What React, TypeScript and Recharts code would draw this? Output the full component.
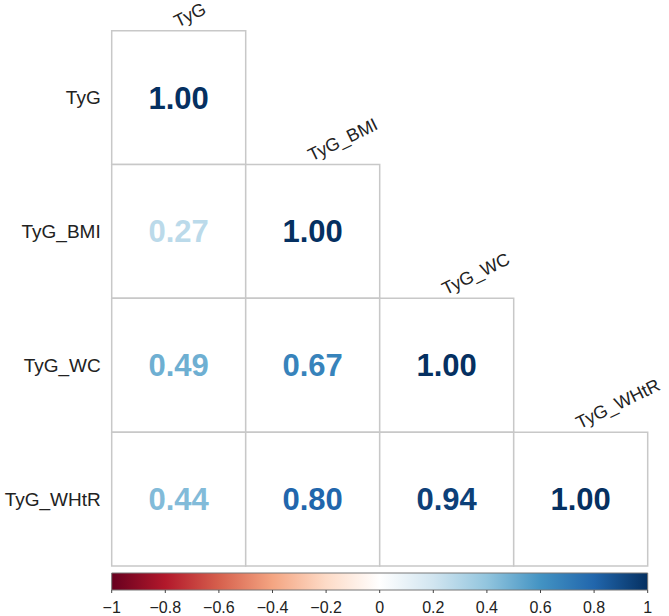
import React from 'react';
import { ScatterChart, Scatter, XAxis, YAxis, ReferenceArea, ComposedChart, Line } from 'recharts';

const variables = ['TyG', 'TyG_BMI', 'TyG_WC', 'TyG_WHtR'];
const rowTyG = [1.0];
const rowBMI = [0.27, 1.0];
const rowWC = [0.49, 0.67, 1.0];
const rowWHtR = [0.44, 0.8, 0.94, 1.0];
const matrixRows = [rowTyG, rowBMI, rowWC, rowWHtR];
const colorbarTicks = [-1, -0.8, -0.6, -0.4, -0.2, 0, 0.2, 0.4, 0.6, 0.8, 1];
const rdbuStops = ['#67001F', '#B2182B', '#D6604D', '#F4A582', '#FDDBC7', '#FFFFFF', '#D1E5F0', '#92C5DE', '#4393C3', '#2166AC', '#053061'];

const hexToRgb = (h: string) => [parseInt(h.slice(1, 3), 16), parseInt(h.slice(3, 5), 16), parseInt(h.slice(5, 7), 16)];
const colorFor = (v: number) => {
  const pos = ((v + 1) / 2) * (rdbuStops.length - 1);
  const i = Math.min(Math.floor(pos), rdbuStops.length - 2);
  const t = pos - i;
  const a = hexToRgb(rdbuStops[i]);
  const b = hexToRgb(rdbuStops[i + 1]);
  const c = a.map((x, k) => Math.round(x + (b[k] - x) * t));
  return `rgb(${c[0]},${c[1]},${c[2]})`;
};

const cells = matrixRows.flatMap((row, i) => row.map((value, j) => ({ row: i, col: j, value })));
const colLabels = variables.map((name, j) => ({ x: j + 0.5, y: j, name }));
const colorbarData = colorbarTicks.map((x) => ({ x, y: 0.5 }));

const fmtMinus = (v: number) => (v < 0 ? '\u2212' + Math.abs(v) : String(v));
const font = "'Liberation Sans', Arial, sans-serif";

const ColLabelShape = (props: any) => {
  const { cx, cy, payload } = props;
  const x = cx - 1;
  const y = cy - 3;
  return (
    <text
      x={x}
      y={y}
      transform={`rotate(-26, ${x}, ${y})`}
      fontSize={18}
      fill="#222"
      fontFamily={font}
      textAnchor="start"
    >
      {payload.name}
    </text>
  );
};

export default function App() {
  return (
    <div style={{ position: 'absolute', left: 0, top: 0, width: 669, height: 616, background: '#fff', fontFamily: font }}>
      <svg width={0} height={0} style={{ position: 'absolute' }}>
        <defs>
          <linearGradient id="rdbu" x1="0" y1="0" x2="1" y2="0">
            {rdbuStops.map((c, i) => (
              <stop key={i} offset={`${(i / (rdbuStops.length - 1)) * 100}%`} stopColor={c} />
            ))}
          </linearGradient>
        </defs>
      </svg>
      <div style={{ position: 'absolute', left: 0, top: 0 }}>
        <ScatterChart width={669} height={570} margin={{ top: 30.7, right: 21.3, bottom: 4, left: 0 }} style={{ overflow: 'visible' }}>
          <XAxis type="number" dataKey="x" domain={[0, 4]} hide />
          <YAxis
            type="number"
            dataKey="y"
            domain={[0, 4]}
            reversed
            width={111.7}
            ticks={[0.5, 1.5, 2.5, 3.5]}
            tickFormatter={(v: number) => variables[Math.floor(v)]}
            axisLine={false}
            tickLine={false}
            tickSize={0}
            tickMargin={11}
            tick={{ fontSize: 19, fill: '#222', fontFamily: font }}
          />
          {cells.map((c) => (
            <ReferenceArea
              key={`${c.row}-${c.col}`}
              x1={c.col}
              x2={c.col + 1}
              y1={c.row}
              y2={c.row + 1}
              fill="#fff"
              fillOpacity={1}
              stroke="#c8c8c8"
              strokeWidth={1.5}
              ifOverflow="visible"
              label={{
                value: c.value.toFixed(2),
                position: 'center',
                fill: colorFor(c.value),
                fontSize: 31,
                fontWeight: 'bold',
                fontFamily: font,
              }}
            />
          ))}
          <Scatter data={colLabels} shape={<ColLabelShape />} isAnimationActive={false} />
        </ScatterChart>
      </div>
      <div style={{ position: 'absolute', left: 0, top: 566 }}>
        <ComposedChart width={669} height={50} data={colorbarData} margin={{ top: 7, right: 21.3, bottom: 0, left: 111.7 }}>
          <XAxis
            type="number"
            dataKey="x"
            domain={[-1, 1]}
            ticks={colorbarTicks}
            tickFormatter={fmtMinus}
            axisLine={false}
            tickSize={3}
            tickLine={{ stroke: '#444' }}
            tickMargin={9}
            height={26}
            interval={0}
            tick={{ fontSize: 16, fill: '#222', fontFamily: font }}
          />
          <YAxis type="number" domain={[0, 1]} hide />
          <ReferenceArea x1={-1} x2={1} y1={0} y2={1} fill="url(#rdbu)" fillOpacity={1} stroke="#777" strokeWidth={1} ifOverflow="visible" />
          <Line dataKey="y" stroke="none" dot={false} isAnimationActive={false} />
        </ComposedChart>
      </div>
    </div>
  );
}
